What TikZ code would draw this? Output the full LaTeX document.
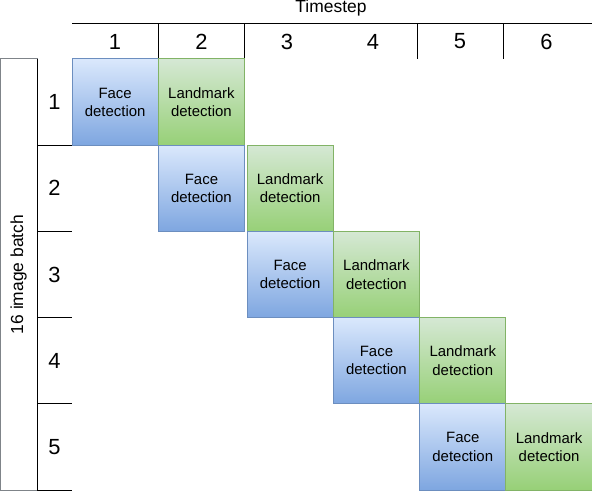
\documentclass[tikz,border=0pt]{standalone}
\usepackage{fontspec}
\setmainfont{Liberation Sans}
\definecolor{faceTop}{HTML}{DAE8FC}
\definecolor{faceBot}{HTML}{7EA6E0}
\definecolor{faceLine}{HTML}{6C8EBF}
\definecolor{markTop}{HTML}{D5E8D4}
\definecolor{markBot}{HTML}{97D077}
\definecolor{markLine}{HTML}{82B366}
\definecolor{batchLine}{HTML}{7F8489}
\tikzset{
    stage/.style={minimum width=86.3bp,minimum height=86.2bp,inner sep=0pt,
        align=center,font=\fontsize{15}{18.4}\selectfont},
    facebox/.style={stage,draw=faceLine,top color=faceTop,bottom color=faceBot},
    markbox/.style={stage,draw=markLine,top color=markTop,bottom color=markBot},
    num/.style={font=\fontsize{22}{26}\selectfont,inner sep=0pt},
    caption/.style={font=\fontsize{17.5}{21}\selectfont,inner sep=0pt}
}
\begin{document}
\begin{tikzpicture}[x=1bp,y=-1bp,line width=1bp]
        \useasboundingbox (0,0) rectangle (592,492);
        % header
        \node[caption,anchor=base] (time) at (331,13) {Timestep};
        \draw (72,24)--(592,24);
        \foreach \u in {158.3,244.6,417,503}
        \draw (\u,24)--(\u,59);
        \foreach \u/\x in {1/115,2/201.5,3/287,4/373,5/460,6/546.5}
        \node[num] (t\u) at (\x,41.5) {\u};
        % batch column
        \draw[batchLine] (0.5,59) rectangle (37.3,490);
        \node[caption,rotate=90] (batch) at (18.5,274.5) {16 image batch};
        \draw (37.3,59)--(37.3,490);
        \foreach \u in {145.2,231.4,317.6,403.8,490}
        \draw (37.3,\u)--(72,\u);
        \foreach \u in {1,...,5}
        \node[num] (r\u) at (54.5,{59+86.2*(\u-0.5)}) {\u};
        % pipeline stages
        \foreach \u/\f/\l in {1/115.15/201.45,2/201.45/290.15,3/290.15/376.45,4/376.45/462.75,5/462.75/549.05}
            {
                \node[facebox] (fd\u) at (\f,{59+86.2*(\u-0.5)}) {Face\\detection};
                \node[markbox] (lm\u) at (\l,{59+86.2*(\u-0.5)}) {Landmark\\detection};
            }
    \end{tikzpicture}
\end{document}
